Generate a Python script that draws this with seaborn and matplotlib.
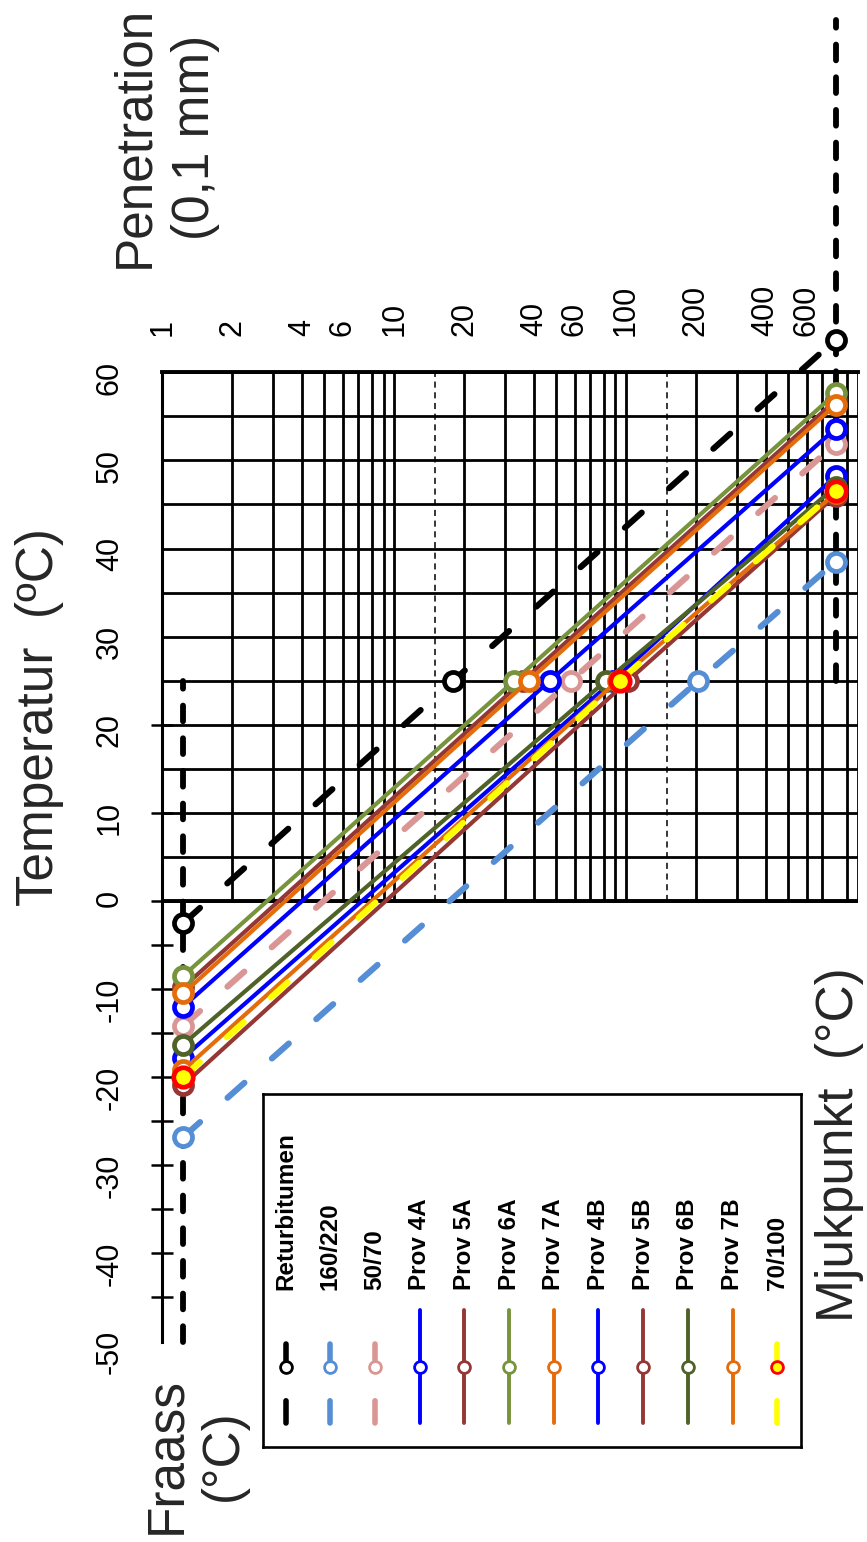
import numpy as np
import pandas as pd
import matplotlib
matplotlib.use("Agg")
import matplotlib.pyplot as plt
from matplotlib.ticker import NullLocator, FixedLocator, FixedFormatter
import seaborn as sns

# ---------------- data ----------------
series = ["Returbitumen", "160/220", "50/70", "Prov 4A", "Prov 5A", "Prov 6A", "Prov 7A",
          "Prov 4B", "Prov 5B", "Prov 6B", "Prov 7B", "70/100"]
fraass_temp = [-2.5, -26.8, -14.2, -12.0, -9.8, -8.5, -10.5, -17.8, -20.9, -16.3, -19.2, -20.0]
pen_at_25 = [18, 205, 58, 47, 36, 33, 38, 88, 102, 82, 92, 94]
softening_temp = [63.7, 38.5, 51.9, 53.6, 56.8, 57.6, 56.3, 48.2, 46.0, 47.0, 46.3, 46.5]
fraass_pen = 1.23
softening_pen = 800
pen_test_temp = 25

line_colors = ["#000000", "#558ED5", "#D99694", "#0000FF", "#953735", "#77933C", "#E46C0A",
               "#0000FF", "#953735", "#4F6228", "#E46C0A", "#FFFF00"]
edge_colors = ["#000000", "#558ED5", "#D99694", "#0000FF", "#953735", "#77933C", "#E46C0A",
               "#0000FF", "#953735", "#4F6228", "#E46C0A", "#FF0000"]
face_colors = ["white"] * 11 + ["#FFFF00"]
is_dashed = [True, True, True, False, False, False, False, False, False, False, False, True]

# reference scales (Fraass scale line and softening point scale line)
fraass_scale_temp = [-50, 25]
softening_scale_temp = [25, 100]

pen_tick_values = [1, 2, 4, 6, 10, 20, 40, 60, 100, 200, 400, 600]
temp_tick_values = [-50, -40, -30, -20, -10, 0, 10, 20, 30, 40, 50, 60]
fraass_mark_values = [-45, -40, -35, -30, -25, -20, -15, -10, -5, 0, 10, 20]
grid_pens = [1, 2, 3, 4, 5, 6, 7, 8, 9, 10, 20, 30, 40, 50, 60, 70, 80, 90, 100,
             200, 300, 400, 500, 600, 700, 900, 1000]
grid_pens_dashed = [15, 150]
grid_temps = [0, 5, 10, 15, 20, 25, 30, 35, 40, 45, 50, 55, 60]

# ---------------- style ----------------
sns.set_theme(style="white")
plt.rcParams['font.family'] = ['Liberation Sans', 'DejaVu Sans']
plt.rcParams['axes.unicode_minus'] = False

W, H = 867, 1542
fig = plt.figure(figsize=(W / 100, H / 100), dpi=100)


def px(x0, y0, x1, y1):
    return [x0 / W, 1 - y1 / H, (x1 - x0) / W, (y1 - y0) / H]


ax = fig.add_axes(px(162.3, 372.3, 858, 1341.5))
ax.set_xscale('log')
ax.set_xlim(1, 1000)
ax.set_ylim(-50, 60)
ax.set_facecolor('none')

# grid
ax.vlines(grid_pens, grid_temps[0], grid_temps[-1], colors='black', lw=2.0, zorder=1)
ax.vlines(grid_pens_dashed, grid_temps[0], grid_temps[-1], colors='black', lw=1.1,
          linestyles=(0, (4, 3)), zorder=1)
ax.hlines(grid_temps, 1, 1000, colors='black', lw=2.0, zorder=1)
ax.hlines(grid_temps[:1], 1, 1000, colors='black', lw=2.8, zorder=1)

for s in ['right', 'bottom']:
    ax.spines[s].set_visible(False)
ax.spines['top'].set_linewidth(2.8)
ax.spines['left'].set_linewidth(2.2)
ax.spines['top'].set_color('black')
ax.spines['left'].set_color('black')

# ticks
ax.xaxis.set_major_locator(FixedLocator(pen_tick_values))
ax.xaxis.set_major_formatter(FixedFormatter([str(v) for v in pen_tick_values]))
ax.xaxis.set_minor_locator(NullLocator())
ax.tick_params(axis='x', which='both', bottom=False, top=True, labelbottom=False,
               labeltop=True, length=0, pad=26, labelsize=22, labelrotation=90,
               labelcolor='black')
ax.yaxis.remove_overlapping_locs = False
ax.yaxis.set_major_locator(FixedLocator(temp_tick_values))
ax.yaxis.set_major_formatter(FixedFormatter([str(v) for v in temp_tick_values]))
ax.yaxis.set_minor_locator(FixedLocator(fraass_mark_values))
ax.tick_params(axis='y', which='major', left=True, length=0, pad=27, labelsize=22,
               labelrotation=90, labelcolor='black')
ax.tick_params(axis='y', which='minor', left=True, length=16, width=1.8,
               direction='inout', color='black')

# reference scale lines
ref_style = dict(color='black', linewidth=4.2, linestyle=(0, (2.7, 2.9)),
                 dash_capstyle='round', clip_on=False, zorder=2)
sns.lineplot(x=[fraass_pen, fraass_pen], y=fraass_scale_temp, ax=ax, sort=False,
             estimator=None, legend=False, **ref_style)
sns.lineplot(x=[softening_pen, softening_pen], y=softening_scale_temp, ax=ax, sort=False,
             estimator=None, legend=False, **ref_style)

# data series
long_dash = (0, (3.7, 6.0))
for i, name in enumerate(series):
    d = pd.DataFrame({'pen': [fraass_pen, pen_at_25[i], softening_pen],
                      'temp': [fraass_temp[i], pen_test_temp, softening_temp[i]]})
    dashed = is_dashed[i]
    lw = 4.4 if dashed else 3.0
    ms = 14.0 if name == "70/100" else 13.0
    sns.lineplot(data=d, x='pen', y='temp', ax=ax, sort=False, estimator=None,
                 legend=False, color=line_colors[i], linewidth=lw,
                 linestyle=long_dash if dashed else '-',
                 dash_capstyle='round', solid_capstyle='round',
                 marker='o', markersize=ms, markerfacecolor=face_colors[i],
                 markeredgecolor=edge_colors[i], markeredgewidth=3.4,
                 clip_on=False, zorder=3 + i)
ax.set_xlabel('')
ax.set_ylabel('')

# ---------------- legend (rotated layout) ----------------
lax = fig.add_axes(px(263, 1094, 801, 1447))
lax.set_xlim(263, 801)
lax.set_ylim(1447, 1094)
lax.set_xticks([])
lax.set_yticks([])
for s in lax.spines.values():
    s.set_visible(True)
    s.set_color('black')
    s.set_linewidth(1.9)
lax.set_facecolor('white')
for i, name in enumerate(series):
    xc = 285.5 + i * 44.7
    dashed = is_dashed[i]
    ys = [1423, 1367, 1344] if dashed else [1423, 1367, 1310]
    lax.plot([xc, xc, xc], ys, color=line_colors[i],
             lw=4.0 if dashed else 2.8,
             linestyle=(0, (4.0, 7.2)) if dashed else '-',
             dash_capstyle='round', solid_capstyle='round',
             marker='o', markevery=[1], markersize=8.5,
             markerfacecolor=face_colors[i], markeredgecolor=edge_colors[i],
             markeredgewidth=2.0)
    lax.text(xc, 1290, name, rotation=90, ha='center', va='bottom', fontsize=17.5,
             fontweight='bold', color='black')

# ---------------- titles ----------------
big = 37
fig.text(165 / W, 1 - 137 / H, "Penetration\n(0,1 mm)", rotation=90, ha='center',
         va='center', fontsize=big, multialignment='center', linespacing=1.3)
fig.text(40 / W, 1 - 717 / H, "Temperatur  (ºC)", rotation=90, ha='center',
         va='center', fontsize=big)
fig.text(840 / W, 1 - 1145 / H, "Mjukpunkt  (°C)", rotation=90, ha='center',
         va='center', fontsize=big)
fig.text(195 / W, 1 - 1455 / H, "Fraass\n(°C)", rotation=90, ha='center',
         va='center', fontsize=big, multialignment='center', linespacing=1.2)

fig.savefig("out.png", dpi=100, facecolor='white')
